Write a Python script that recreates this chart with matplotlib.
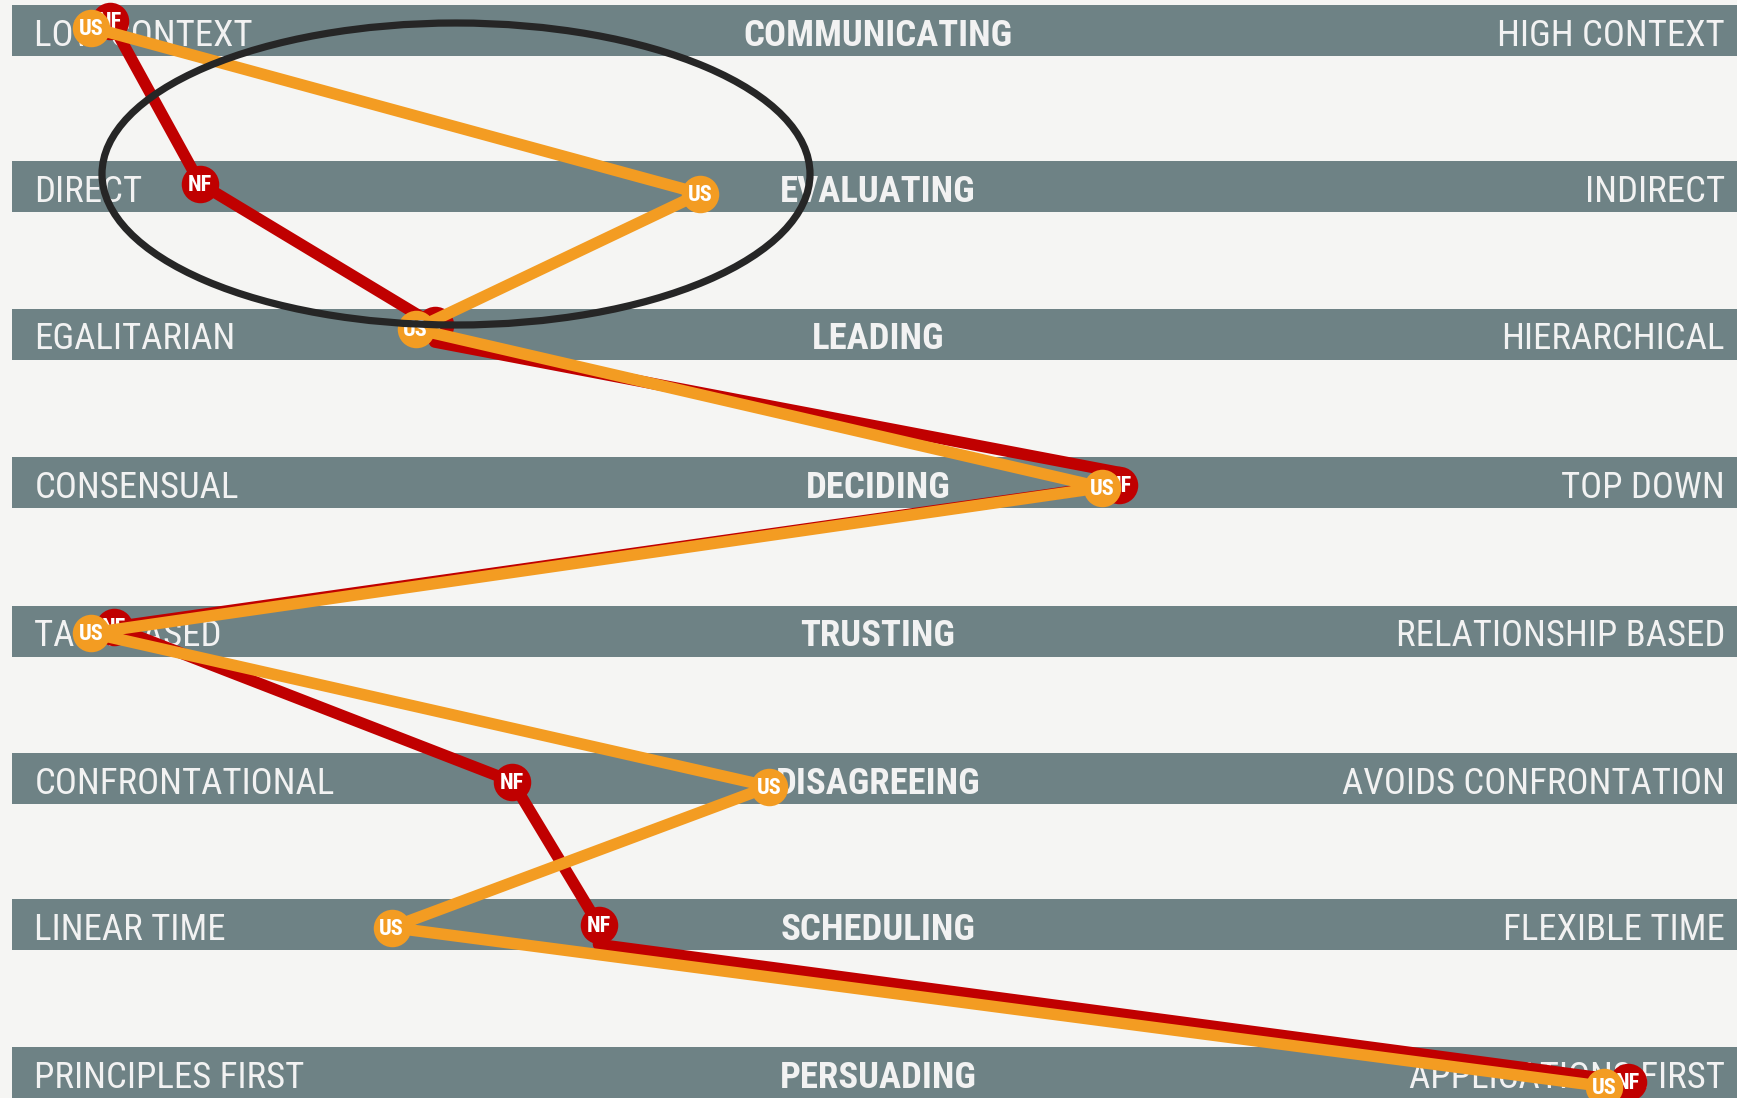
import matplotlib
matplotlib.use("Agg")
import matplotlib.pyplot as plt
from matplotlib.patches import Ellipse, Rectangle
from matplotlib import font_manager as fm

# ---------------- data ----------------
dimensions = ["COMMUNICATING", "EVALUATING", "LEADING", "DECIDING",
              "TRUSTING", "DISAGREEING", "SCHEDULING", "PERSUADING"]
left_labels = ["LOW CONTEXT", "DIRECT", "EGALITARIAN", "CONSENSUAL",
               "TASK BASED", "CONFRONTATIONAL", "LINEAR TIME", "PRINCIPLES FIRST"]
right_labels = ["HIGH CONTEXT", "INDIRECT", "HIERARCHICAL", "TOP DOWN",
                "RELATIONSHIP BASED", "AVOIDS CONFRONTATION", "FLEXIBLE TIME",
                "APPLICATIONS FIRST"]
# position on each scale (0 = left pole, 100 = right pole)
nf_scores = [5.7, 10.9, 24.5, 64.2, 5.9, 29.0, 34.0, 93.7]
us_scores = [4.6, 39.9, 23.4, 63.2, 4.6, 43.9, 22.0, 92.3]
nf_label = "NF"
us_label = "US"

# ---------------- layout ----------------
W, H = 1737, 1098
band_centers = [30.5, 186.5, 334, 482.5, 631, 778.5, 924.5, 1072.5]
band_h = 51
nf_dy = [-10, -3, -9, 2, -4, 3, 0, 9]
us_dy = [-3, 7, -5, 5, 2, 8, 3, 14]
# where the hand-drawn connector leaves / reaches a marker (offset from its centre)
nf_seg_start_dy = [0, 0, 17, 0, 0, 0, 20]
nf_seg_end_dy = [0, 0, -12, 0, 0, 0, 0]

avail = {f.name for f in fm.fontManager.ttflist}
narrow = "Roboto Condensed" if "Roboto Condensed" in avail else (
    "Liberation Sans Narrow" if "Liberation Sans Narrow" in avail else "Liberation Sans")

BG = "#F5F5F3"
BAND = "#6E8285"
RED = "#C00000"
ORANGE = "#F39C22"
TXT = "#F2F2F2"
LW = 8.3

fig = plt.figure(figsize=(W / 100, H / 100), dpi=100, facecolor=BG)
ax = fig.add_axes([0, 0, 1, 1])
ax.set_facecolor(BG)
x0 = -12 / 17.25
ax.set_xlim(x0, 100)
ax.set_ylim(H, 0)
ax.axis("off")

for i, yc in enumerate(band_centers):
    ax.add_patch(Rectangle((0, yc - band_h / 2), 100, band_h,
                           facecolor=BAND, edgecolor="none", zorder=1))
    yb = yc + 15
    ax.text(1.3, yb, left_labels[i], color=TXT, fontsize=26.5, family=narrow,
            weight="normal", ha="left", va="baseline", zorder=2)
    ax.text(99.3, yb, right_labels[i], color=TXT, fontsize=26.5, family=narrow,
            weight="normal", ha="right", va="baseline", zorder=2)
    ax.text(50.2, yb, dimensions[i], color=TXT, fontsize=26.5, family=narrow,
            weight="bold", ha="center", va="baseline", zorder=2)

nf_y = [c + d for c, d in zip(band_centers, nf_dy)]
us_y = [c + d for c, d in zip(band_centers, us_dy)]

# red connector built segment by segment from the marker values
for i in range(len(nf_scores) - 1):
    xs = [nf_scores[i], nf_scores[i], nf_scores[i + 1], nf_scores[i + 1]]
    ys = [nf_y[i], nf_y[i] + nf_seg_start_dy[i],
          nf_y[i + 1] + nf_seg_end_dy[i], nf_y[i + 1]]
    ax.plot(xs, ys, color=RED, lw=LW, zorder=3, solid_capstyle="round",
            solid_joinstyle="round")
ax.plot(nf_scores, nf_y, "o", color=RED, ms=27, mec="none", zorder=4)
for x, y in zip(nf_scores, nf_y):
    ax.text(x, y + 1.5, nf_label, color="white", fontsize=16, family=narrow,
            weight="bold", ha="center", va="center", zorder=4.5)

ax.plot(us_scores, us_y, color=ORANGE, lw=LW, zorder=5, solid_capstyle="round",
        solid_joinstyle="round")
ax.plot(us_scores, us_y, "o", color=ORANGE, ms=27, mec="none", zorder=6)
for x, y in zip(us_scores, us_y):
    ax.text(x, y + 1.5, us_label, color="white", fontsize=16, family=narrow,
            weight="bold", ha="center", va="center", zorder=6.5)

# highlight ellipse (centre/size in axis units)
ex = (456 - 12) / 17.25
ew = 708 / 17.25
ax.add_patch(Ellipse((ex, 174), ew, 302, facecolor="none", edgecolor="#262626",
                     lw=5.2, zorder=8))

fig.savefig("out.png", dpi=100, facecolor=BG)
